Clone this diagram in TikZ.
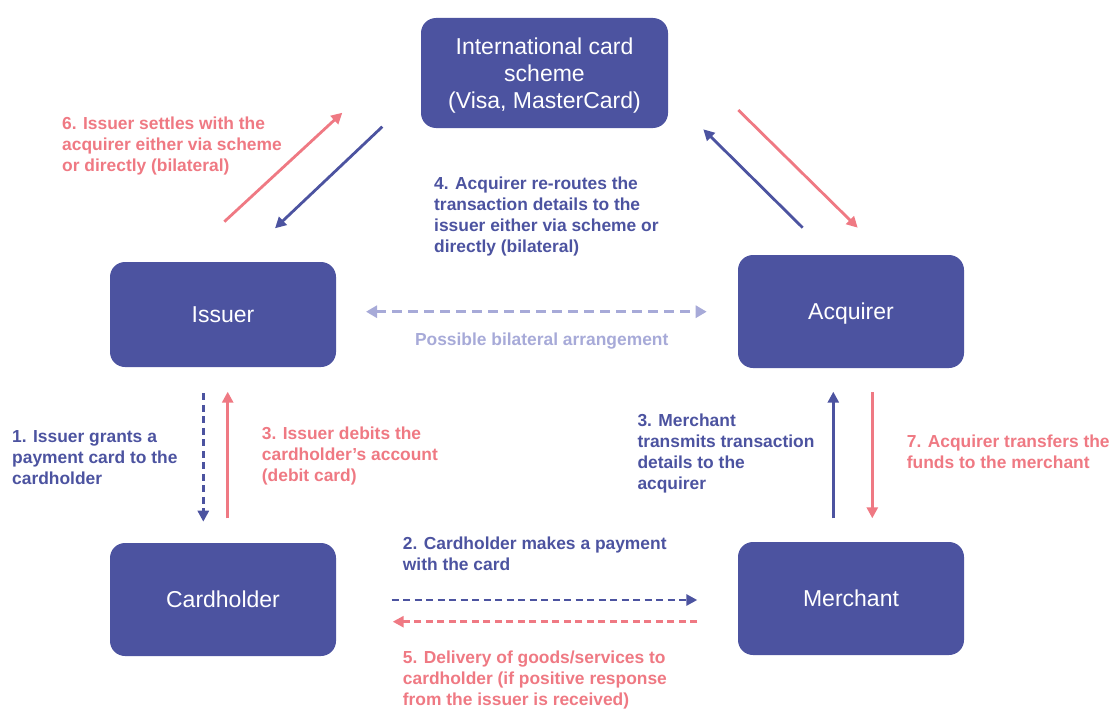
\documentclass[tikz,border=0pt]{standalone}
\usepackage{fontspec}
\setmainfont{Liberation Sans}
\usetikzlibrary{arrows.meta}
\definecolor{boxblue}{HTML}{4C53A0}
\definecolor{lblblue}{HTML}{4C53A0}
\definecolor{lblred}{HTML}{EF7983}
\definecolor{lightp}{HTML}{A7AAD8}
\newcommand{\boxfont}{\fontsize{23}{27}\selectfont}
\newcommand{\lblfont}{\fontsize{17.4}{21}\selectfont\bfseries}
\begin{document}
\begin{tikzpicture}[x=1pt,y=-1pt,
  party/.style={draw=none, fill=boxblue, rounded corners=15pt, text=white,
    font=\boxfont, align=center, inner sep=0pt, minimum width=226pt, text depth=0pt},
  lbl/.style={font=\lblfont, align=left, anchor=north west, inner sep=0pt,
    execute at begin node=\strut},
  arr/.style={line width=2.8pt, -{Triangle[length=11pt,width=11pt]}},
  dsh/.style={dash pattern=on 7pt off 4.5pt},
]
\useasboundingbox (0,0) rectangle (1111,709);

% boxes
\node[party, minimum width=247pt, minimum height=110pt] (scheme) at (544.5,73)
  {International card\\scheme\\(Visa, MasterCard)};
\node[party, minimum height=105pt] (issuer) at (223,314.5) {Issuer};
\node[party, minimum height=113pt] (acquirer) at (851,311.5) {Acquirer};
\node[party, minimum height=113pt] (cardholder) at (223,599.5) {Cardholder};
\node[party, minimum height=113pt] (merchant) at (851,598.5) {Merchant};

% connector end points
\coordinate (i6a) at (224.3,221.7);  \coordinate (s6b) at (342.3,112.7);
\coordinate (s4a) at (382.3,126.7);  \coordinate (i4b) at (275,228.3);
\coordinate (a4a) at (802.7,227.7);  \coordinate (s4c) at (703.3,129.3);
\coordinate (s7a) at (738.3,110);    \coordinate (a7b) at (857.7,227.7);
\coordinate (ibl) at (366,311.7);    \coordinate (abl) at (706.7,311.7);
\coordinate (i1a) at (203.3,393.3);  \coordinate (c1b) at (203.3,521.7);
\coordinate (c3a) at (227.7,518.3);  \coordinate (i3b) at (227.7,391.7);
\coordinate (m3a) at (833.3,518.3);  \coordinate (a3b) at (833.3,391.7);
\coordinate (a7a) at (872.3,392);    \coordinate (m7b) at (872.3,518.3);
\coordinate (c2a) at (391.7,600);    \coordinate (m2b) at (697.3,600);
\coordinate (m5a) at (697.3,621.7);  \coordinate (c5b) at (392.7,621.7);

% connectors
\draw[arr, color=lblred] (i6a) -- (s6b);
\draw[arr, color=lblblue] (s4a) -- (i4b);
\draw[arr, color=lblblue] (a4a) -- (s4c);
\draw[arr, color=lblred] (s7a) -- (a7b);
\draw[line width=3pt, color=lightp, dash pattern=on 10pt off 6pt,
  {Triangle[length=11pt,width=12pt]}-{Triangle[length=11pt,width=12pt]}] (ibl) -- (abl);
\draw[arr, dsh, color=lblblue] (i1a) -- (c1b);
\draw[arr, color=lblred] (c3a) -- (i3b);
\draw[arr, color=lblblue] (m3a) -- (a3b);
\draw[arr, color=lblred] (a7a) -- (m7b);
\draw[arr, dsh, color=lblblue] (c2a) -- (m2b);
\draw[arr, dsh, color=lblred] (m5a) -- (c5b);

% labels
\node[lbl, text=lblred] (l6) at (62,116.5)
  {6. Issuer settles with the\\acquirer either via scheme\\or directly (bilateral)};
\node[lbl, text=lblblue] (l4) at (434,177)
  {4. Acquirer re-routes the\\transaction details to the\\issuer either via scheme or\\directly (bilateral)};
\node[font=\lblfont, text=lightp, anchor=base, inner sep=0pt] (lbil) at (541.7,345)
  {Possible bilateral arrangement};
\node[lbl, text=lblblue] (l1) at (12,430.5)
  {1. Issuer grants a\\payment card to the\\cardholder};
\node[lbl, text=lblred] (l3i) at (261.7,426.8)
  {3. Issuer debits the\\cardholder’s account\\(debit card)};
\node[lbl, text=lblblue] (l3m) at (637.3,414)
  {3. Merchant\\transmits transaction\\details to the\\acquirer};
\node[lbl, text=lblred] (l7) at (906.7,435)
  {7. Acquirer transfers the\\funds to the merchant};
\node[lbl, text=lblblue] (l2) at (402.7,536.5)
  {2. Cardholder makes a payment\\with the card};
\node[lbl, text=lblred] (l5) at (402.7,650.5)
  {5. Delivery of goods/services to\\cardholder (if positive response\\from the issuer is received)};
\end{tikzpicture}
\end{document}
